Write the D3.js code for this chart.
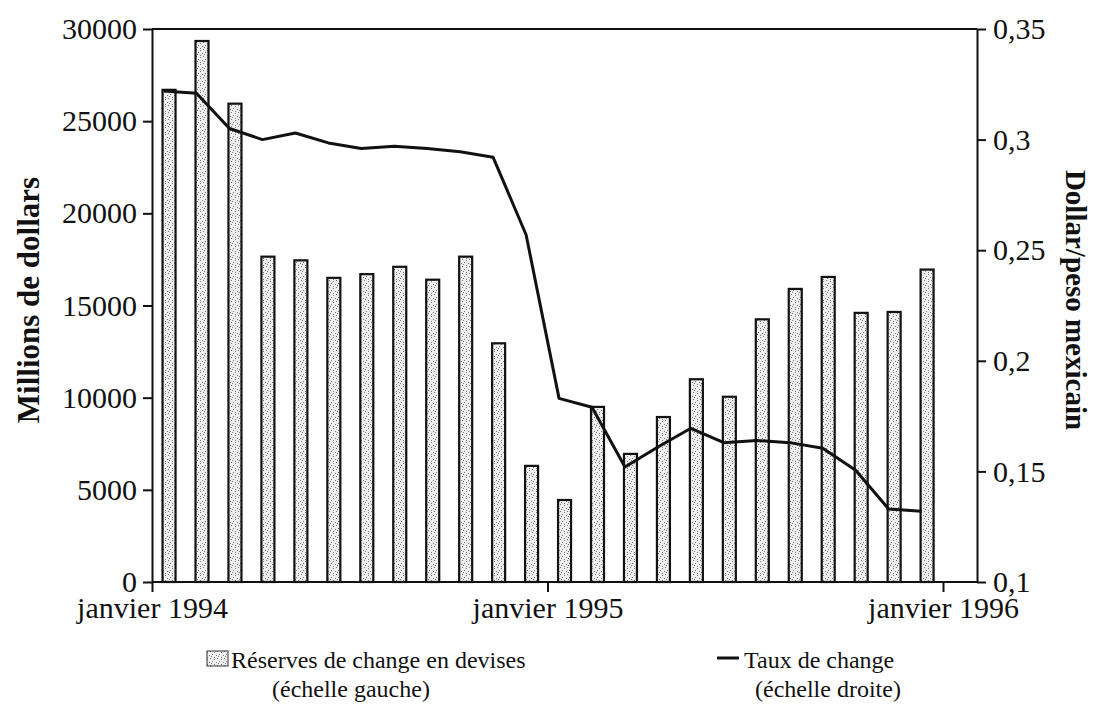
<!DOCTYPE html>
<head>
  <meta charset="utf-8">
  <script src="https://d3js.org/d3.v7.min.js"></script>
  <style>
    body { margin: 0; background: #fff; }
    text { font-family: "Liberation Serif", "Times New Roman", serif; fill: #111; }
  </style>
</head>

<body>
  <div id="chart"></div>
</body>

<script>

// months shown (one bar + one line point each)
var months = ["1994-01","1994-02","1994-03","1994-04","1994-05","1994-06",
              "1994-07","1994-08","1994-09","1994-10","1994-11","1994-12",
              "1995-01","1995-02","1995-03","1995-04","1995-05","1995-06",
              "1995-07","1995-08","1995-09","1995-10","1995-11","1995-12"];

// foreign currency reserves, millions of dollars (left scale)
var reserves = [26700, 29350, 25950, 17650, 17450, 16500,
                16700, 17100, 16400, 17650, 12950, 6300,
                4450, 9500, 6950, 8950, 11000, 10050,
                14250, 15900, 16550, 14600, 14650, 16950];

// exchange rate, dollar per mexican peso (right scale)
var rate = [0.322, 0.321, 0.305, 0.300, 0.303, 0.2985,
            0.296, 0.297, 0.296, 0.2945, 0.292, 0.257,
            0.183, 0.179, 0.152, 0.161, 0.1695, 0.163,
            0.164, 0.163, 0.1605, 0.1505, 0.133, 0.132];

var xTickPos = [0, 12, 24];
var xTickLabels = ["janvier 1994", "janvier 1995", "janvier 1996"];
var leftTicks = [0, 5000, 10000, 15000, 20000, 25000, 30000];
var rightTicks = [0.1, 0.15, 0.2, 0.25, 0.3, 0.35];
var rightTickLabels = ["0,1", "0,15", "0,2", "0,25", "0,3", "0,35"];

var W = 1094, H = 704;
var xLeft = 152, xRight = 977, yTop = 29, yBottom = 582;

var svg = d3.select("#chart")
  .append("svg")
    .attr("width", W)
    .attr("height", H);

// stippled fill for the bars
var pat = svg.append("defs").append("pattern")
    .attr("id", "stipple")
    .attr("patternUnits", "userSpaceOnUse")
    .attr("width", 7)
    .attr("height", 7);
pat.append("rect").attr("width", 7).attr("height", 7).attr("fill", "#eeeeee");
[[0,0],[4,1],[2,3],[6,4],[1,5],[4,6]].forEach(function(p) {
  pat.append("rect").attr("x", p[0]).attr("y", p[1])
    .attr("width", 1).attr("height", 1).attr("fill", "#7a7a7a");
});

// scales
var x = d3.scaleLinear().domain([0, 24]).range([xLeft, 943]);
var yL = d3.scaleLinear().domain([0, 30000]).range([yBottom, yTop]);
var yR = d3.scaleLinear().domain([0.1, 0.35]).range([yBottom, yTop]);

// bars
svg.append("g")
  .selectAll("rect")
  .data(reserves)
  .enter()
  .append("rect")
    .attr("x", function(d, i) { return x(i + 0.32); })
    .attr("y", function(d) { return yL(d); })
    .attr("width", 13)
    .attr("height", function(d) { return yBottom - yL(d); })
    .style("fill", "url(#stipple)")
    .style("stroke", "#111")
    .style("stroke-width", 2.2);

// exchange rate line
var line = d3.line()
  .x(function(d, i) { return x(i + 0.32) + 1; })
  .y(function(d) { return yR(d); });

svg.append("path")
  .datum(rate)
  .attr("d", line)
  .attr("fill", "none")
  .attr("stroke", "#111")
  .attr("stroke-width", 3)
  .attr("stroke-linejoin", "round");

// top frame line
svg.append("line")
  .attr("x1", xLeft).attr("x2", xRight)
  .attr("y1", yTop).attr("y2", yTop)
  .attr("stroke", "#111").attr("stroke-width", 2);

// left axis
var gL = svg.append("g")
  .attr("transform", "translate(" + xLeft + ",0)")
  .call(d3.axisLeft(yL).tickValues(leftTicks).tickFormat(d3.format("d"))
        .tickSize(9).tickPadding(6).tickSizeOuter(0));

// right axis
var gR = svg.append("g")
  .attr("transform", "translate(" + xRight + ",0)")
  .call(d3.axisRight(yR).tickValues(rightTicks)
        .tickFormat(function(d, i) { return rightTickLabels[i]; })
        .tickSize(9).tickPadding(7).tickSizeOuter(0));

// bottom axis
var gB = svg.append("g")
  .attr("transform", "translate(0," + yBottom + ")")
  .call(d3.axisBottom(x).tickValues(xTickPos)
        .tickFormat(function(d, i) { return xTickLabels[i]; })
        .tickSize(10).tickPadding(5).tickSizeOuter(0));
gB.select(".domain").attr("d", "M" + xLeft + ",0H" + xRight);

[gL, gR, gB].forEach(function(g) {
  g.selectAll("path, line").attr("stroke", "#111").attr("stroke-width", 2);
  g.selectAll("text").style("font-size", "30px")
    .style("font-family", "'Liberation Serif', 'Times New Roman', serif")
    .attr("fill", "#111");
});

// axis titles
svg.append("text")
  .attr("transform", "translate(39,300) rotate(-90)")
  .attr("text-anchor", "middle")
  .style("font-size", "31px")
  .style("font-weight", "bold")
  .text("Millions de dollars");

svg.append("text")
  .attr("transform", "translate(1066,300) rotate(90)")
  .attr("text-anchor", "middle")
  .style("font-size", "29px")
  .style("font-weight", "bold")
  .text("Dollar/peso mexicain");

// legend
var leg = svg.append("g").style("font-size", "24px");
leg.append("rect")
  .attr("x", 207).attr("y", 651).attr("width", 21).attr("height", 15)
  .style("fill", "url(#stipple)").style("stroke", "#333").style("stroke-width", 1);
leg.append("text").attr("x", 231).attr("y", 668).text("Réserves de change en devises");
leg.append("text").attr("x", 272).attr("y", 697).text("(échelle gauche)");
leg.append("line")
  .attr("x1", 717).attr("x2", 739).attr("y1", 658).attr("y2", 658)
  .attr("stroke", "#111").attr("stroke-width", 3);
leg.append("text").attr("x", 744).attr("y", 668).text("Taux de change");
leg.append("text").attr("x", 755).attr("y", 697).text("(échelle droite)");

</script>
